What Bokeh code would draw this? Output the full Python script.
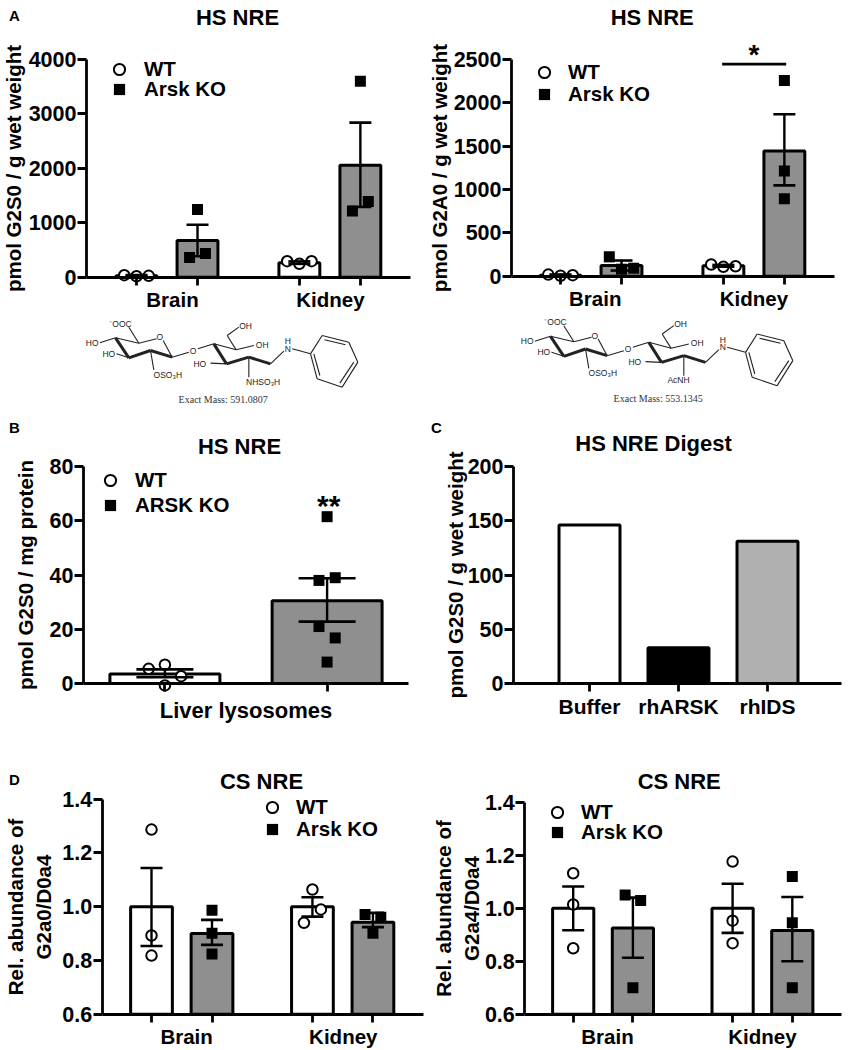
from bokeh.plotting import figure
from bokeh.layouts import column, row
from bokeh.models import (Range1d, LinearAxis, FixedTicker, NumeralTickFormatter, Label,
                          Legend, LegendItem, Whisker, TeeHead, ColumnDataSource)
from bokeh.core.properties import value
from bokeh.embed import file_html
from bokeh.resources import INLINE

FONT = "Liberation Sans"
GRAY = "#8f8f8f"
LIGHT = "#b0b0b0"

# ---------- data ----------
GROUPS = ["Brain", "Kidney"]

A1_X = [1, 2, 3.67, 4.67]
A1_BAR = [28, 675, 265, 2055]
A1_HI = [40, 963, 290, 2840]
A1_LO = [16, 385, 245, 1290]
A1_WT_X = [0.80, 1.0, 1.20, 3.47, 3.67, 3.87]
A1_WT_Y = [37, 18, 25, 295, 245, 295]
A1_KO_X = [2.0, 1.87, 2.13, 4.67, 4.54, 4.80]
A1_KO_Y = [1245, 362, 436, 3600, 1215, 1390]

A2_X = [1, 2, 3.67, 4.67]
A2_BAR = [12, 123, 120, 1445]
A2_HI = [20, 181, 130, 1868]
A2_LO = [6, 65, 110, 1048]
A2_WT_X = [0.80, 1.0, 1.20, 3.47, 3.67, 3.87]
A2_WT_Y = [19, 5, 12, 135, 108, 115]
A2_KO_X = [1.8, 2.0, 2.2, 4.67, 4.67, 4.67]
A2_KO_Y = [223, 81, 92, 2257, 1213, 894]
A2_SIG_X = [3.65, 4.7]
A2_SIG_Y = [2446, 2446]

B_X = [1, 2]
B_BAR = [3.5, 30.5]
B_HI = [5.2, 38.8]
B_LO = [2.3, 22.8]
B_WT_X = [0.9, 1.0, 1.1, 1.0]
B_WT_Y = [5.4, 6.9, 2.7, -0.7]
B_KO_X = [2.0, 1.95, 2.05, 1.95, 2.05, 2.0]
B_KO_Y = [61.5, 38, 39, 21, 16.8, 7.9]

C_LABELS = ["Buffer", "rhARSK", "rhIDS"]
C_X = [1, 2, 3]
C_BAR = [146, 33, 131]
C_COLORS = ["white", "black", LIGHT]

D1_X = [1, 2, 3.66, 4.66]
D1_BAR = [1.0, 0.90, 1.0, 0.942]
D1_HI = [1.144, 0.951, 1.035, 0.977]
D1_LO = [0.854, 0.858, 0.963, 0.924]
D1_WT_X = [1, 1, 1, 3.66, 3.80, 3.52]
D1_WT_Y = [1.287, 0.893, 0.818, 1.064, 0.99, 0.94]
D1_KO_X = [2, 2, 2, 4.53, 4.79, 4.66]
D1_KO_Y = [0.987, 0.901, 0.824, 0.971, 0.961, 0.901]

D2_X = [1, 2, 3.67, 4.67]
D2_BAR = [1.0, 0.925, 1.0, 0.916]
D2_HI = [1.082, 1.04, 1.092, 1.042]
D2_LO = [0.917, 0.813, 0.907, 0.80]
D2_WT_X = [1, 1, 1, 3.67, 3.67, 3.67]
D2_WT_Y = [1.132, 1.014, 0.849, 1.176, 0.953, 0.868]
D2_KO_X = [1.87, 2.13, 2.0, 4.67, 4.67, 4.67]
D2_KO_Y = [1.05, 1.029, 0.70, 1.12, 0.945, 0.70]


def make_panel(col, rowspan, tick0, unit, axis_x, axis_end, y0px, y0, y1px, y1,
               yticks, yfmt, ylabel, title, title_x, title_y, ylabel_standoff,
               ticklabel_pos, ticklabels, tick_marks, xlabel_standoff, xfont=20.5):
    cx, cw = col
    top, bottom = rowspan
    xv = lambda px: 1 + (px - tick0) / unit
    yv = lambda py: y0 + (py - y0px) * (y1 - y0) / (y1px - y0px)
    p = figure(width=cw, height=bottom - top, min_border=0, toolbar_location=None, tools="",
               output_backend="svg", x_axis_location=None, y_axis_location=None,
               x_range=Range1d(xv(cx), xv(cx + cw)), y_range=Range1d(yv(bottom), yv(top)))
    p.outline_line_color = None
    p.grid.visible = False
    ya = LinearAxis(fixed_location=xv(axis_x), bounds=(y0, y1), ticker=FixedTicker(ticks=yticks),
                    formatter=NumeralTickFormatter(format=yfmt), axis_label=ylabel,
                    axis_line_width=2.8, major_tick_line_width=2.8, minor_tick_line_color=None,
                    major_tick_in=0, major_tick_out=9, major_label_standoff=1,
                    axis_label_standoff=ylabel_standoff,
                    major_label_text_font=FONT, major_label_text_font_size="21.5px", major_label_text_font_style="bold",
                    axis_label_text_font=FONT, axis_label_text_font_size="20.5px", axis_label_text_font_style="bold",
                    major_label_text_color="black", axis_label_text_color="black")
    xa = LinearAxis(fixed_location=y0, bounds=(xv(axis_x), xv(axis_end)),
                    ticker=FixedTicker(ticks=ticklabel_pos, minor_ticks=tick_marks),
                    major_label_overrides=dict(zip(ticklabel_pos, ticklabels)),
                    axis_line_width=2.8, major_tick_line_color=None, major_tick_in=0, major_tick_out=0,
                    minor_tick_line_width=2.8, minor_tick_in=0, minor_tick_out=8,
                    major_label_standoff=xlabel_standoff,
                    major_label_text_font=FONT, major_label_text_font_size=f"{xfont}px", major_label_text_font_style="bold",
                    major_label_text_color="black")
    p.add_layout(ya, "left")
    p.add_layout(xa, "below")
    p.add_layout(Label(x=xv(title_x), y=yv(title_y), text=title, text_font=FONT, text_font_size="22px",
                       text_font_style="bold", text_align="center", text_baseline="middle", text_color="black"))
    return p, xv, yv


def bars(p, xs, vals, base, width, colors):
    p.vbar(x=xs, top=vals, bottom=base, width=width, fill_color=colors, line_color="black", line_width=3)


def points(p, wx, wy, kx, ky):
    w = p.scatter(wx, wy, marker="circle", size=10.5, fill_color="white", line_color="black", line_width=2)
    k = p.scatter(kx, ky, marker="square", size=11, fill_color="black", line_color="black", line_width=0)
    return w, k


def whiskers(p, xs, hi, lo, cap):
    src = ColumnDataSource(dict(x=xs, hi=hi, lo=lo))
    p.add_layout(Whisker(base="x", upper="hi", lower="lo", source=src, dimension="height", line_width=2.4,
                         line_color="black", level="annotation",
                         upper_head=TeeHead(size=cap, line_width=2.6, line_color="black"),
                         lower_head=TeeHead(size=cap, line_width=2.6, line_color="black")))


def legend(p, col, bottom, gx, y1, y2, w, k, labels, font=20.5, text_x=None):
    for rend, lab, yy in ((w, labels[0], y1), (k, labels[1], y2)):
        lg = Legend(items=[LegendItem(label=lab, renderers=[rend])],
                    location=(round(gx - 14 - col[0]), round(bottom - (yy + 14))),
                    glyph_width=28, glyph_height=28, label_height=20, label_width=20,
                    label_standoff=round(text_x - gx - 14),
                    spacing=0, padding=0, margin=0, border_line_color=None, background_fill_alpha=0,
                    label_text_font=FONT, label_text_font_size=f"{font}px", label_text_font_style="bold",
                    label_text_color="black")
        p.add_layout(lg)


def letter(p, xv, yv, txt, x, y):
    p.add_layout(Label(x=xv(x), y=yv(y), text=txt, text_font=FONT, text_font_size="15px", text_font_style="bold",
                       text_align="center", text_baseline="middle", text_color="black"))


L, R = (0, 425), (425, 424)
R1 = (0, 315)
RM = (315, 412)
R2 = (412, 767)
R3 = (767, 1050)
YLAB_A1 = "pmol G2S0 / g wet weight"
YLAB_A2 = "pmol G2A0 / g wet weight"
YLAB_B = "pmol G2S0 / mg protein"

# A left
p1, xv, yv = make_panel(L, R1, 136, 61, 86, 410, 276.7, 0, 59, 4000, [0, 1000, 2000, 3000, 4000], "0", YLAB_A1,
                        "HS NRE", 237, 17, 1, [1.59, 4.18], GROUPS, A1_X, 3)
bars(p1, A1_X, A1_BAR, 0, 0.67, ["white", GRAY, "white", GRAY])
w, k = points(p1, A1_WT_X, A1_WT_Y, A1_KO_X, A1_KO_Y)
whiskers(p1, A1_X, A1_HI, A1_LO, 22)
legend(p1, L, R1[1], 119.3, 69, 89, w, k, ["WT", "Arsk KO"], text_x=144.3)
letter(p1, xv, yv, "A", 14, 15)

# A right
p2, xv, yv = make_panel(R, R1, 560, 61, 511, 834, 275.7, 0, 59, 2500, [0, 500, 1000, 1500, 2000, 2500], "0", YLAB_A2,
                        "HS NRE", 651.7, 17, 0, [1.57, 4.17], GROUPS, A2_X, 3)
bars(p2, A2_X, A2_BAR, 0, 0.67, ["white", GRAY, "white", GRAY])
w, k = points(p2, A2_WT_X, A2_WT_Y, A2_KO_X, A2_KO_Y)
whiskers(p2, A2_X, A2_HI, A2_LO, 22)
legend(p2, R, R1[1], 544, 71.7, 94, w, k, ["WT", "Arsk KO"], text_x=568)
p2.line(A2_SIG_X, A2_SIG_Y, line_color="black", line_width=2.8)
p2.text([4.17], [2560], text=["*"], text_font=value(FONT), text_font_size="28px", text_font_style="bold",
        text_align="center", text_baseline="middle", text_color="black")

# B
p3, xv, yv = make_panel(L, R2, 164.4, 162.2, 83, 408, 683, 0, 466, 80, [0, 20, 40, 60, 80], "0", YLAB_B,
                        "HS NRE", 239, 446, 10, [1.5], ["Liver lysosomes"], B_X, 6, xfont=22)
bars(p3, B_X, B_BAR, 0, 0.678, ["white", GRAY])
w, k = points(p3, B_WT_X, B_WT_Y, B_KO_X, B_KO_Y)
whiskers(p3, B_X, B_HI, B_LO, 57)
legend(p3, L, R2[1], 110, 480, 505, w, k, ["WT", "ARSK KO"], text_x=134.6)
p3.text([2.01], [65.5], text=["**"], text_font=value(FONT), text_font_size="30px", text_font_style="bold",
        text_align="center", text_baseline="middle", text_color="black")
letter(p3, xv, yv, "B", 14, 427)

# C
p4, xv, yv = make_panel(R, R2, 589, 89, 513, 841, 683, 0, 466, 200, [0, 50, 100, 150, 200], "0", YLAB_A1,
                        "HS NRE Digest", 653, 443, -2, C_X, C_LABELS, C_X, 3, xfont=21)
bars(p4, C_X, C_BAR, 0, 0.685, C_COLORS)
letter(p4, xv, yv, "C", 436, 427)

# D left
yt = [0.6, 0.8, 1.0, 1.2, 1.4]
p5, xv, yv = make_panel(L, R3, 151, 60.5, 101.7, 422.7, 1013.7, 0.6, 798.7, 1.4, yt, "0.0",
                        "Rel. abundance of\nG2a0/D0a4", "CS NRE", 261, 781, 5, [1.58, 4.17], GROUPS, D1_X, 3)
bars(p5, D1_X, D1_BAR, 0.6, 0.69, ["white", GRAY, "white", GRAY])
w, k = points(p5, D1_WT_X, D1_WT_Y, D1_KO_X, D1_KO_Y)
whiskers(p5, D1_X, D1_HI, D1_LO, 22)
legend(p5, L, R3[1], 271.7, 807, 829, w, k, ["WT", "Arsk KO"], text_x=296)
letter(p5, xv, yv, "D", 14, 779)

# D right
p6, xv, yv = make_panel(R, R3, 572.7, 59.7, 524.3, 841, 1013.7, 0.6, 801.7, 1.4, yt, "0.0",
                        "Rel. abundance of\nG2a4/D0a4", "CS NRE", 678.7, 781, -1, [1.575, 4.17], GROUPS, D2_X, 3)
bars(p6, D2_X, D2_BAR, 0.6, 0.69, ["white", GRAY, "white", GRAY])
w, k = points(p6, D2_WT_X, D2_WT_Y, D2_KO_X, D2_KO_Y)
whiskers(p6, D2_X, D2_HI, D2_LO, 22)
legend(p6, R, R3[1], 557, 811.7, 831.7, w, k, ["WT", "Arsk KO"], text_x=580.7)

# ---------- chemical structures ----------
THIN = [((135, 82), (205, 98)), ((205, 98), (258, 85)), ((278, 90), (305, 140)),
        ((205, 98), (175, 50)), ((135, 82), (88, 97)), ((175, 142), (138, 130)), ((240, 120), (250, 178)),
        ((305, 140), (355, 125)), ((382, 115), (430, 100)), ((430, 100), (497, 118)), ((497, 118), (470, 75)),
        ((470, 75), (505, 50)), ((497, 118), (550, 105)), ((600, 160), (640, 122)), ((535, 140), (535, 200)),
        ((468, 160), (420, 158)), ((665, 115), (720, 130)),
        ((720, 130), (755, 75)), ((755, 75), (835, 95)), ((835, 95), (862, 155)), ((862, 155), (815, 230)),
        ((815, 230), (740, 205)), ((740, 205), (720, 130)),
        ((762, 88), (825, 103)), ((850, 155), (808, 218)), ((730, 130), (748, 195))]
THICK = [((135, 82), (175, 142)), ((175, 142), (240, 120)), ((240, 120), (305, 140)),
         ((430, 100), (468, 160)), ((468, 160), (535, 140)), ((535, 140), (600, 160))]
ATOMS = [("\u207bOOC", 150, 40), ("OH", 525, 45), ("HO", 65, 97), ("O", 268, 80), ("HO", 115, 130),
         ("OSO\u2083H", 292, 192), ("O", 368, 120), ("OH", 575, 103), ("H", 652, 92), ("N", 652, 115),
         ("HO", 388, 160)]


def molecule(col, rowspan, ox, oy, amine, amine_x, mass):
    cx, cw = col
    top, bottom = rowspan
    m = figure(width=cw, height=bottom - top, min_border=0, toolbar_location=None, tools="", output_backend="svg",
               x_axis_location=None, y_axis_location=None,
               x_range=Range1d(cx, cx + cw), y_range=Range1d(bottom, top))
    m.outline_line_color = None
    m.grid.visible = False
    px = lambda z: ox + z / 3
    py = lambda z: oy + z / 3
    for bonds, lw in ((THIN, 1.1), (THICK, 3)):
        m.segment([px(a[0]) for a, b in bonds], [py(a[1]) for a, b in bonds],
                  [px(b[0]) for a, b in bonds], [py(b[1]) for a, b in bonds], line_color="#222222", line_width=lw)
    labs = ATOMS + [(amine, amine_x, 214)]
    m.text([px(a[1]) for a in labs], [py(a[2]) for a in labs], text=[a[0] for a in labs],
           text_font=value(FONT), text_font_size="8.5px", text_align="center", text_baseline="middle",
           text_color="#222222")
    m.text([px(458)], [py(268)], text=[mass], text_font=value("Liberation Serif"), text_font_size="10px",
           text_align="center", text_baseline="middle", text_color="#333333")
    return m


m1 = molecule(L, RM, 70, 310, "NHSO\u2083H", 578, "Exact Mass: 591.0807")
m2 = molecule(R, RM, 505, 308.5, "AcNH", 519, "Exact Mass: 553.1345")

page = column(row(p1, p2, spacing=0), row(m1, m2, spacing=0), row(p3, p4, spacing=0), row(p5, p6, spacing=0),
              spacing=0)
open("out.html", "w").write(file_html(page, INLINE))
